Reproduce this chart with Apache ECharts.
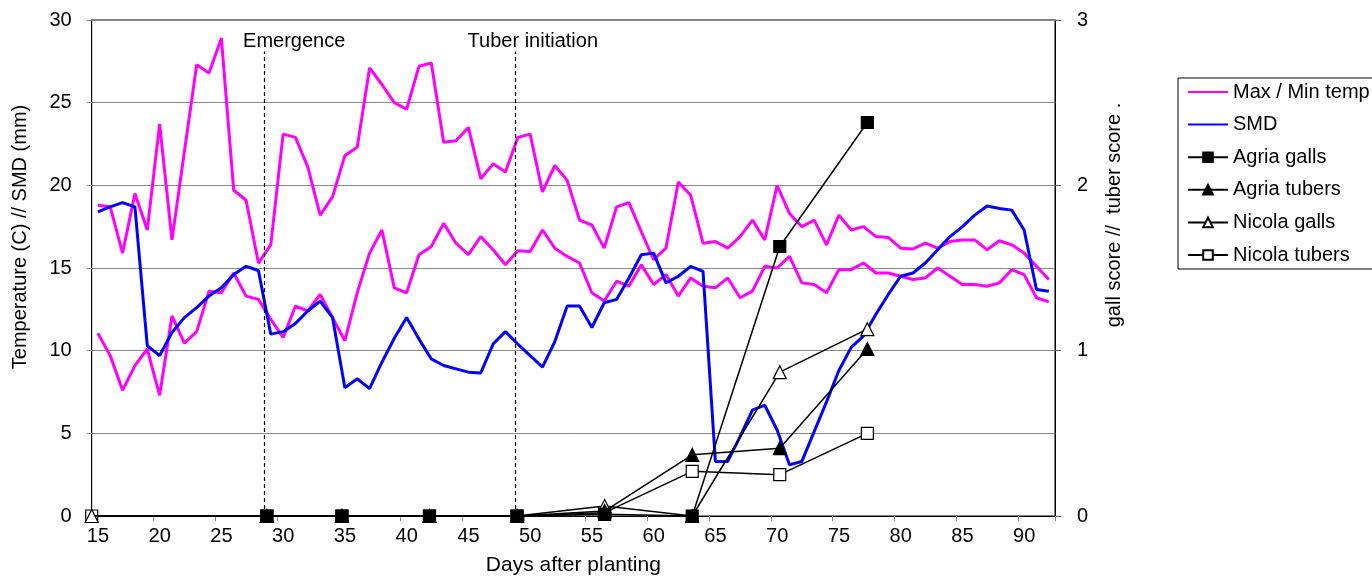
<!DOCTYPE html>
<html>
<head>
<meta charset="utf-8">
<script src="https://cdn.jsdelivr.net/npm/echarts@6/dist/echarts.min.js"></script>
<style>
html,body{margin:0;padding:0;background:#fff;}
#chart{width:1372px;height:578px;}
</style>
</head>
<body>
<div id="chart"></div>
<script>
// Days after planting (category axis, one per day)
const days = [15,16,17,18,19,20,21,22,23,24,25,26,27,28,29,30,31,32,33,34,35,36,37,38,39,40,
  41,42,43,44,45,46,47,48,49,50,51,52,53,54,55,56,57,58,59,60,61,62,63,64,65,66,67,68,69,70,
  71,72,73,74,75,76,77,78,79,80,81,82,83,84,85,86,87,88,89,90,91,92];

const maxTemp = [18.8,18.7,15.9,19.5,17.3,23.7,16.7,22.0,27.3,26.8,28.9,19.7,19.1,15.3,16.4,23.1,
  22.9,21.1,18.2,19.3,21.8,22.3,27.1,26.1,25.0,24.6,27.2,27.4,22.6,22.7,23.5,20.4,21.3,20.8,22.9,
  23.1,19.6,21.2,20.3,17.9,17.6,16.2,18.7,18.95,17.2,15.5,16.2,20.2,19.4,16.5,16.6,16.2,16.9,17.9,
  16.7,20.0,18.3,17.5,17.9,16.4,18.2,17.3,17.5,16.9,16.85,16.2,16.15,16.5,16.2,16.6,16.7,16.7,
  16.1,16.65,16.4,15.9,15.1,14.3];

const minTemp = [11.05,9.7,7.6,9.1,10.1,7.3,12.1,10.45,11.15,13.6,13.5,14.7,13.3,13.1,11.9,10.8,
  12.7,12.4,13.4,12.0,10.6,13.5,15.9,17.3,13.8,13.5,15.8,16.3,17.7,16.5,15.8,16.9,16.1,15.2,16.05,
  16.0,17.3,16.2,15.7,15.3,13.5,13.0,14.2,13.9,15.2,14.0,14.6,13.3,14.4,13.9,13.8,14.4,13.2,13.6,
  15.1,15.0,15.7,14.1,14.0,13.5,14.9,14.9,15.3,14.7,14.7,14.5,14.3,14.4,15.0,14.5,14.0,14.0,13.9,
  14.1,14.9,14.6,13.2,12.95];

const smd = [18.4,18.7,18.95,18.7,10.3,9.7,11.1,12.0,12.6,13.3,13.8,14.6,15.1,14.85,11.0,11.15,
  11.65,12.4,13.0,12.0,7.76,8.3,7.7,9.3,10.75,12.0,10.7,9.5,9.1,8.9,8.7,8.65,10.4,11.15,10.4,
  9.7,9.0,10.55,12.7,12.7,11.4,12.9,13.1,14.4,15.8,15.9,14.1,14.5,15.1,14.8,3.3,3.3,4.8,6.4,
  6.7,5.2,3.1,3.3,5.1,6.9,8.8,10.2,10.9,12.2,13.4,14.5,14.7,15.3,16.1,16.9,17.5,18.2,18.75,
  18.6,18.5,17.3,13.7,13.6];

// Nematode scores (secondary axes): sampling day and score
const agriaGallDays   = [29,35,42,49,56,63,70,77];
const agriaGalls      = [0,0,0,0,0.01,0,1.63,2.38];
const agriaTuberDays  = [29,35,42,49,56,63,70,77];
const agriaTubers     = [0,0,0,0,0.03,0.37,0.41,1.01];
const nicolaGallDays  = [15,29,35,42,49,56,63,70,77];
const nicolaGalls     = [0,0,0,0,0,0.06,0,0.87,1.13];
const nicolaTuberDays = [15,29,35,42,49,56,63,70,77];
const nicolaTubers    = [0,0,0,0,0,0.02,0.27,0.25,0.50];

// Crop stage marker days
const emergenceDay = 28.83;
const tuberInitDay = 48.86;

const FONT = 'Liberation Sans';
const pair = (xs, ys) => xs.map((x, i) => [x, ys[i]]);

const chart = echarts.init(document.getElementById('chart'), null, {renderer: 'canvas'});

function stageLine(name, day, padLeft) {
  return {
    name: name, type: 'line', xAxisIndex: 1, yAxisIndex: 0, data: [], silent: true,
    markLine: {
      silent: true, symbol: ['none', 'none'], animation: false,
      lineStyle: {color: '#000', type: [4, 3], width: 1.2},
      label: {show: true, position: 'end', formatter: name, color: '#000',
        fontFamily: FONT, fontSize: 20, distance: 0, padding: [0, 0, 0, padLeft]},
      data: [[{coord: [day, 0]}, {coord: [day, 28.1]}]]
    }
  };
}

function markerSeries(name, data, symbol, fill, size, z) {
  return {
    name: name, type: 'line', xAxisIndex: 1, yAxisIndex: 1, data: data,
    symbol: symbol, symbolSize: size, showSymbol: true, clip: false, z: z,
    lineStyle: {color: '#000', width: 1.5},
    itemStyle: {color: fill, borderColor: '#000', borderWidth: 1.2}
  };
}

chart.setOption({
  animation: false,
  backgroundColor: '#fff',
  textStyle: {fontFamily: FONT},
  grid: {left: 91.7, right: 317, top: 20, bottom: 62, show: true, borderColor: '#000', borderWidth: 1,
    containLabel: false, outerBoundsMode: 'none'},
  legend: {
    orient: 'vertical', left: 1178, top: 78,
    data: [
      {name: 'Max / Min temp', itemStyle: {opacity: 0}},
      {name: 'SMD', itemStyle: {opacity: 0}},
      'Agria galls', 'Agria tubers', 'Nicola galls', 'Nicola tubers'],
    itemWidth: 40, itemHeight: 12, itemGap: 12.6,
    padding: [4, 30, 4, 9],
    borderColor: '#000', borderWidth: 1, borderRadius: 0,
    textStyle: {fontFamily: FONT, fontSize: 20, color: '#000', lineHeight: 20}
  },
  xAxis: [{
    type: 'category', data: days, boundaryGap: true,
    name: 'Days after planting', nameLocation: 'middle', nameGap: 39,
    nameTextStyle: {fontFamily: FONT, fontSize: 21, color: '#000'},
    axisLine: {lineStyle: {color: '#000', width: 1}},
    axisTick: {show: true, interval: 4, length: 5, lineStyle: {color: '#888'}},
    axisLabel: {interval: 4, margin: 10, fontFamily: FONT, fontSize: 20, color: '#000'},
    splitLine: {show: false}
  }, {
    type: 'value', min: 15, max: 92, show: false
  }],
  yAxis: [{
    type: 'value', min: 0, max: 30, interval: 5,
    name: 'Temperature (C) // SMD (mm)', nameLocation: 'middle', nameGap: 61, nameRotate: 90,
    nameTextStyle: {fontFamily: FONT, fontSize: 20, color: '#000', padding: [0, 0, 0, 62]},
    axisLine: {show: true, lineStyle: {color: '#000'}},
    axisTick: {show: true, length: 5, lineStyle: {color: '#888'}},
    axisLabel: {margin: 20, fontFamily: FONT, fontSize: 20, color: '#000'},
    splitLine: {show: true, lineStyle: {color: '#888', width: 1}}
  }, {
    type: 'value', min: 0, max: 3, interval: 1, position: 'right',
    name: 'gall score //  tuber score .', nameLocation: 'middle', nameGap: 49, nameRotate: 90,
    nameTextStyle: {fontFamily: FONT, fontSize: 20, color: '#000', padding: [0, 0, 0, 106]},
    axisLine: {show: true, lineStyle: {color: '#000'}},
    axisTick: {show: true, length: 6, lineStyle: {color: '#555'}},
    axisLabel: {margin: 22, fontFamily: FONT, fontSize: 20, color: '#000'},
    splitLine: {show: false}
  }],
  series: [
    {name: 'Max / Min temp', type: 'line', data: maxTemp, symbol: 'none', z: 3,
      lineStyle: {color: '#ff00ff', width: 3}, itemStyle: {color: '#ff00ff'}},
    {name: 'Max / Min temp', type: 'line', data: minTemp, symbol: 'none', z: 3,
      lineStyle: {color: '#ff00ff', width: 3}, itemStyle: {color: '#ff00ff'}},
    {name: 'SMD', type: 'line', data: smd, symbol: 'none', z: 3,
      lineStyle: {color: '#0000ff', width: 3}, itemStyle: {color: '#0000ff'}},
    stageLine('Emergence', emergenceDay, 59),
    stageLine('Tuber initiation', tuberInitDay, 35),
    markerSeries('Nicola tubers', pair(nicolaTuberDays, nicolaTubers), 'rect', '#fff', 12, 5),
    markerSeries('Nicola galls', pair(nicolaGallDays, nicolaGalls), 'triangle', '#fff', 13, 6),
    markerSeries('Agria tubers', pair(agriaTuberDays, agriaTubers), 'triangle', '#000', 13, 7),
    markerSeries('Agria galls', pair(agriaGallDays, agriaGalls), 'rect', '#000', 12, 8)
  ]
});
</script>
</body>
</html>
